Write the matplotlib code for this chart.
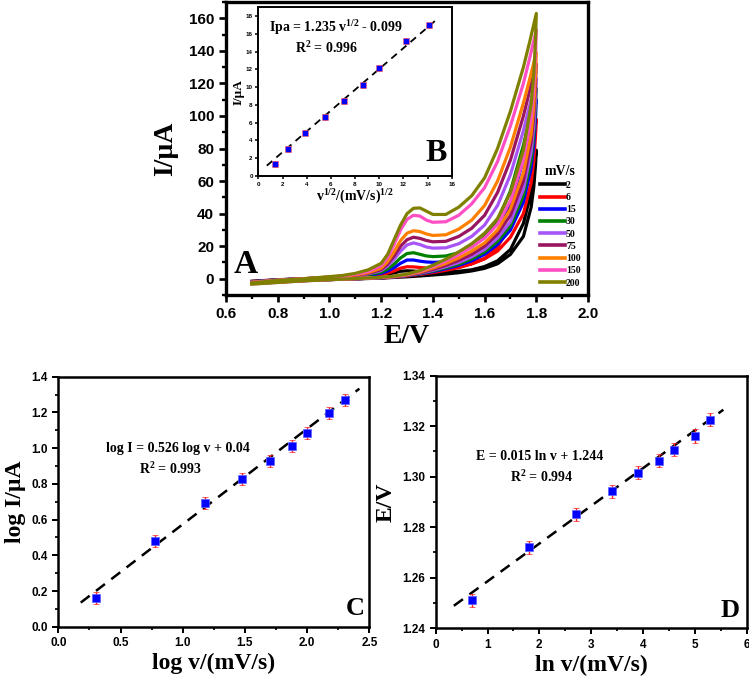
import numpy as np
import matplotlib
matplotlib.use('Agg')
import matplotlib.pyplot as plt
from matplotlib.ticker import MultipleLocator

plt.rcParams['font.family'] = ['Liberation Sans', 'DejaVu Sans']
plt.rcParams['font.weight'] = 'bold'
plt.rcParams['mathtext.fontset'] = 'custom'
plt.rcParams['mathtext.rm'] = 'Liberation Serif:bold'
plt.rcParams['mathtext.bf'] = 'Liberation Serif:bold'
plt.rcParams['mathtext.it'] = 'Liberation Serif:bold:italic'

SERIF = ['Liberation Serif', 'DejaVu Serif']

# ---- panel A: CVs at different scan rates ----
rates = [2, 6, 15, 30, 50, 75, 100, 150, 200]
colors = ['#000000', '#ff0000', '#0000ff', '#008000', '#a855f7',
          '#99155f', '#ff8000', '#ff4fc4', '#808000']

E_fwd = [0.70, 0.80, 0.90, 1.00, 1.05, 1.10, 1.15, 1.20, 1.225, 1.25, 1.275,
         1.30, 1.325, 1.35, 1.375, 1.40, 1.45, 1.50, 1.55, 1.60, 1.65, 1.70,
         1.75, 1.775, 1.80]
I_fwd = {
    2:   [-1.5, -0.6, 0.0, 0.4, 0.6, 0.9, 1.3, 2.0, 2.7, 3.6, 4.6, 4.9, 4.7, 4.4, 4.3, 4.3,
          4.3, 4.6, 5.5, 7.5, 11, 18, 34, 50, 79],
    6:   [-1.7, -0.7, 0.0, 0.5, 0.8, 1.2, 1.7, 2.6, 3.5, 4.8, 6.5, 7.4, 7.3, 6.9, 6.6, 6.5,
          6.6, 7.4, 9.3, 12.5, 19.5, 33, 60, 78, 98],
    15:  [-1.8, -0.7, 0.0, 0.6, 0.9, 1.4, 2.1, 3.3, 4.7, 6.8, 9.5, 11.5, 11.5, 10.8, 10.3, 10.1,
          10.3, 11.8, 14.5, 19, 28, 45, 73, 91, 110],
    30:  [-1.9, -0.8, 0.0, 0.7, 1.0, 1.6, 2.5, 4.0, 6.0, 9.0, 12.8, 15.5, 16, 15, 14, 13.6,
          14, 16, 19.5, 25.5, 36, 54, 82, 99, 117],
    50:  [-2.0, -0.8, 0.0, 0.8, 1.2, 1.9, 3.0, 5.0, 7.8, 12, 17, 20.8, 22, 21, 19.5, 18.8,
          19, 21.5, 26, 33, 45, 64, 91, 107, 123],
    75:  [-2.1, -0.9, 0.0, 0.9, 1.3, 2.1, 3.3, 5.6, 9, 14, 20, 24, 25.5, 24.8, 23.5, 22.7,
          23, 26, 31, 39, 53, 73, 100, 116, 132],
    100: [-2.2, -0.9, 0.0, 1.0, 1.5, 2.4, 3.8, 6.5, 10.5, 16.5, 23.5, 28, 29.5, 29, 27.5, 26.6,
          27, 30.5, 36, 45, 60, 81, 108, 123, 139],
    150: [-2.3, -1.0, 0.0, 1.1, 1.7, 2.8, 4.5, 8, 13, 21, 30, 36.5, 39, 38.5, 36, 34.7,
          35, 39, 46, 56, 72, 94, 120, 136, 153],
    200: [-2.5, -1.0, 0.0, 1.3, 2.0, 3.3, 5.5, 9.5, 15, 24, 33, 40, 43.3, 43.5, 41.5, 39.5,
          39.5, 44, 51, 62, 80, 103, 130, 146, 163],
}
E_rev = [1.80, 1.797, 1.79, 1.78, 1.75, 1.70, 1.65, 1.60, 1.55, 1.50, 1.45, 1.40,
         1.35, 1.30, 1.25, 1.20, 1.10, 1.00, 0.90, 0.80, 0.70]
I_rev = {
    2:   [79, 70, 56, 44, 26, 15, 9.2, 6.4, 4.8, 3.7, 2.9, 2.3, 1.7, 1.2, 0.8, 0.4, -0.1, -0.5, -1.0, -1.6, -2.3],
    6:   [98, 88, 72, 59, 40, 25.5, 17, 12.2, 9.1, 6.8, 5.2, 3.8, 2.7, 1.7, 1.0, 0.5, 0.0, -0.4, -1.0, -1.7, -2.5],
    15:  [110, 99, 82, 68, 47, 30, 21, 15, 11, 8.2, 6.1, 4.4, 3.0, 1.9, 1.1, 0.6, 0.0, -0.5, -1.0, -1.8, -2.6],
    30:  [117, 106, 88, 73, 51, 32.5, 23, 16.5, 12.2, 9, 6.7, 4.8, 3.2, 2.0, 1.2, 0.6, 0.0, -0.5, -1.1, -1.9, -2.7],
    50:  [123, 111, 93, 78, 55, 35, 25, 18, 13.5, 10, 7.4, 5.2, 3.4, 2.1, 1.2, 0.7, 0.0, -0.5, -1.1, -2.0, -2.8],
    75:  [132, 120, 100, 84, 60, 39, 27.5, 20, 15, 11.2, 8.2, 5.7, 3.7, 2.2, 1.3, 0.7, 0.0, -0.5, -1.2, -2.0, -2.9],
    100: [139, 126, 106, 89, 65, 43, 30, 22, 17, 12.8, 9.4, 6.6, 4.1, 2.4, 1.4, 0.8, 0.1, -0.5, -1.2, -2.1, -3.0],
    150: [153, 139, 117, 99, 73, 48, 33.5, 25, 19.5, 14.8, 10.8, 7.5, 4.6, 2.7, 1.5, 0.8, 0.1, -0.6, -1.3, -2.2, -3.2],
    200: [163, 148, 125, 107, 79, 53, 37, 28, 21.5, 16.5, 12, 8.3, 5.0, 2.9, 1.6, 0.9, 0.1, -0.6, -1.3, -2.3, -3.3],
}

# ---- panel B: peak current vs sqrt(scan rate) ----
sqrt_v = [1.414, 2.449, 3.873, 5.477, 7.071, 8.660, 10.0, 12.247, 14.142]
Ipa = [1.35, 3.03, 4.87, 6.66, 8.46, 10.22, 12.17, 15.2, 16.95]
Ipa_err = 0.3
B_fit_x = [0.7, 14.6]
B_fit_y = [1.16, 17.44]

# ---- panel C: log I vs log v ----
log_v = [0.301, 0.778, 1.176, 1.477, 1.699, 1.875, 2.0, 2.176, 2.301]
log_I = [0.159, 0.482, 0.691, 0.825, 0.929, 1.012, 1.086, 1.198, 1.269]
log_I_err = 0.033
C_fit_x = [0.18, 2.42]
C_fit_y = [0.135, 1.333]

# ---- panel D: Ep vs ln v ----
ln_v = [0.693, 1.792, 2.708, 3.401, 3.912, 4.317, 4.605, 5.011, 5.298]
Ep = [1.2510, 1.2721, 1.2851, 1.2943, 1.3016, 1.3064, 1.3106, 1.3161, 1.3225]
Ep_err = 0.0026
D_fit_x = [0.35, 5.55]
D_fit_y = [1.2489, 1.3265]


def style_axes(ax, size, spine_w, tick_len):
    for s in ax.spines.values():
        s.set_linewidth(spine_w)
    ax.tick_params(which='major', direction='out', length=tick_len, width=spine_w * 0.8,
                   labelsize=size)
    ax.tick_params(which='minor', direction='out', length=tick_len * 0.6, width=spine_w * 0.7)
    for lab in ax.get_xticklabels() + ax.get_yticklabels():
        lab.set_fontweight('bold')


fig = plt.figure(figsize=(7.49, 6.79), dpi=100)

# panel A
axA = fig.add_axes([0.3018, 0.5655, 0.4833, 0.4315])
for r, c in zip(rates, colors):
    E = np.concatenate([E_fwd, E_rev])
    I = np.concatenate([I_fwd[r], I_rev[r]])
    axA.plot(E, I, color=c, lw=2.3, label=str(r), solid_joinstyle='round')
axA.set_xlim(0.6, 2.0)
axA.set_ylim(-10, 170)
axA.xaxis.set_major_locator(MultipleLocator(0.2))
axA.xaxis.set_minor_locator(MultipleLocator(0.1))
axA.yaxis.set_major_locator(MultipleLocator(20))
axA.yaxis.set_minor_locator(MultipleLocator(10))
style_axes(axA, 11, 2.4, 5)
axA.set_xlabel('E/V', family=SERIF, fontsize=20, fontweight='bold', labelpad=2)
axA.set_ylabel('I/µA', family=SERIF, fontsize=20, fontweight='bold', labelpad=8)
axA.text(0.022, 0.05, 'A', transform=axA.transAxes, family=SERIF, fontsize=24,
         fontweight='bold', ha='left', va='bottom')
leg = axA.legend(loc='upper left', bbox_to_anchor=(0.868, 0.445), frameon=False,
                 title='mV/s', handlelength=2.5, handletextpad=0.15, labelspacing=0.33,
                 borderpad=0, borderaxespad=0,
                 prop={'family': SERIF, 'size': 7, 'weight': 'bold'},
                 title_fontproperties={'family': SERIF, 'size': 10, 'weight': 'bold'})
for h in leg.get_lines():
    h.set_linewidth(2.6)

# panel B (inset)
axB = fig.add_axes([0.3449, 0.7408, 0.2582, 0.2485])
axB.errorbar(sqrt_v, Ipa, yerr=Ipa_err, fmt='s', color='#0000ff', ms=4.2,
             ecolor='#ff3030', elinewidth=0.8, capsize=1.5, mec='#ff6060', mew=0.4, zorder=3)
axB.plot(B_fit_x, B_fit_y, color='black', lw=1.3, dashes=(4, 3), zorder=2)
axB.set_xlim(0, 16)
axB.set_ylim(0, 19)
axB.xaxis.set_major_locator(MultipleLocator(2))
axB.yaxis.set_major_locator(MultipleLocator(2))
style_axes(axB, 4.5, 1.4, 2.5)
axB.tick_params(pad=1.5)
axB.set_xlabel('v$^{1/2}$/(mV/s)$^{1/2}$', family=SERIF, fontsize=10, fontweight='bold',
               labelpad=1)
axB.set_ylabel('I/µA', family=SERIF, fontsize=9.5, fontweight='bold', labelpad=1)
axB.text(0.40, 0.877, 'Ipa = 1.235 v$^{1/2}$ - 0.099', transform=axB.transAxes,
         family=SERIF, fontsize=10, fontweight='bold', ha='center', va='center')
axB.text(0.35, 0.759, 'R$^{2}$ = 0.996', transform=axB.transAxes,
         family=SERIF, fontsize=10, fontweight='bold', ha='center', va='center')
axB.text(0.975, 0.05, 'B', transform=axB.transAxes, family=SERIF, fontsize=23,
         fontweight='bold', ha='right', va='bottom')

# panel C
axC = fig.add_axes([0.0779, 0.077, 0.4152, 0.3682])
axC.errorbar(log_v, log_I, yerr=log_I_err, fmt='s', color='#0000ff', ms=5.5,
             ecolor='#ff2020', elinewidth=1.0, capsize=2.2, mec='#6060ff', mew=0.5, zorder=3)
axC.plot(C_fit_x, C_fit_y, color='black', lw=1.8, dashes=(4.5, 3.2), zorder=2)
axC.set_xlim(0, 2.5)
axC.set_ylim(0, 1.4)
axC.xaxis.set_major_locator(MultipleLocator(0.5))
axC.xaxis.set_minor_locator(MultipleLocator(0.25))
axC.yaxis.set_major_locator(MultipleLocator(0.2))
axC.yaxis.set_minor_locator(MultipleLocator(0.1))
style_axes(axC, 8.5, 1.8, 4)
axC.set_xlabel('log v/(mV/s)', family=SERIF, fontsize=17, fontweight='bold', labelpad=3)
axC.set_ylabel('log I/µA', family=SERIF, fontsize=17, fontweight='bold', labelpad=4)
axC.text(0.96, 1.0, 'log I = 0.526 log v + 0.04', family=SERIF, fontsize=10,
         fontweight='bold', ha='center', va='center')
axC.text(0.90, 0.883, 'R$^{2}$ = 0.993', family=SERIF, fontsize=10,
         fontweight='bold', ha='center', va='center')
axC.text(0.986, 0.025, 'C', transform=axC.transAxes, family=SERIF, fontsize=19,
         fontweight='bold', ha='right', va='bottom')

# panel D
axD = fig.add_axes([0.5817, 0.0747, 0.4152, 0.3721])
axD.errorbar(ln_v, Ep, yerr=Ep_err, fmt='s', color='#0000ff', ms=5.5,
             ecolor='#ff2020', elinewidth=1.0, capsize=2.2, mec='#6060ff', mew=0.5, zorder=3)
axD.plot(D_fit_x, D_fit_y, color='black', lw=1.8, dashes=(4.5, 3.2), zorder=2)
axD.set_xlim(0, 6)
axD.set_ylim(1.24, 1.34)
axD.xaxis.set_major_locator(MultipleLocator(1))
axD.xaxis.set_minor_locator(MultipleLocator(0.5))
axD.yaxis.set_major_locator(MultipleLocator(0.02))
axD.yaxis.set_minor_locator(MultipleLocator(0.01))
style_axes(axD, 8.5, 1.8, 4)
axD.set_xlabel('ln v/(mV/s)', family=SERIF, fontsize=17, fontweight='bold', labelpad=3)
axD.set_ylabel('E/V', family=SERIF, fontsize=17, fontweight='bold', labelpad=4)
axD.text(2.01, 1.3079, 'E = 0.015 ln v + 1.244', family=SERIF, fontsize=10,
         fontweight='bold', ha='center', va='center')
axD.text(2.04, 1.300, 'R$^{2}$ = 0.994', family=SERIF, fontsize=10,
         fontweight='bold', ha='center', va='center')
axD.text(0.978, 0.025, 'D', transform=axD.transAxes, family=SERIF, fontsize=19,
         fontweight='bold', ha='right', va='bottom')

fig.savefig('out.png', dpi=100)
